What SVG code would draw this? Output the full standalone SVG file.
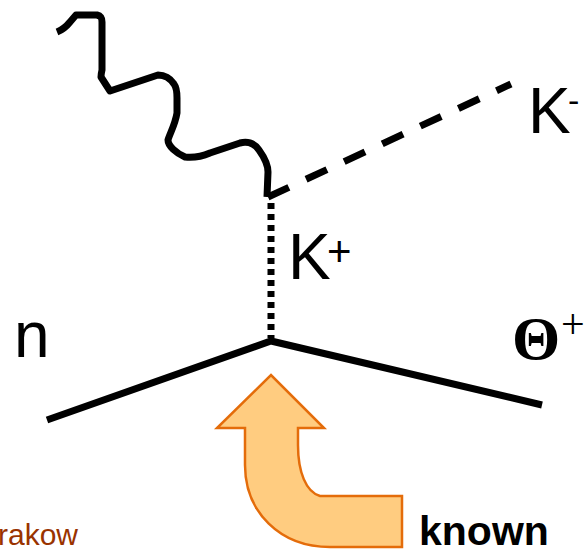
<svg xmlns="http://www.w3.org/2000/svg" width="588" height="549" viewBox="0 0 588 549">
<style>
.ln{fill:none;stroke:#000;stroke-width:7}
.lbl{font-family:"Liberation Sans",Arial,sans-serif;fill:#000}
.sym{font-family:"Liberation Serif","Times New Roman",serif;fill:#000}
</style>
<rect width="588" height="549" fill="#fff"/>
<g id="connectors">
<path id="photon" class="ln" stroke-width="6" stroke-linejoin="round" stroke-linecap="butt" d="M57,32 C62,30 66,27 70,22 L76,15 L97,15 C101,16 102,18 102,22 L102,70 C101,74 101,77 101,77 L110,91 L158,75 C165,75 170,78 174,84 C177,88 177,93 177,98 L177,113 C175,125 170,133 168,140 C168,146 176,153 185,157 C195,158 203,156 210,153 L240,143 C248,141 254,143 259,150 C264,157 268,165 268,172 L267,197"/>
<path id="kminus-line" class="ln" stroke-width="6" stroke-dasharray="23 19" d="M268,197 L511,84"/>
<path id="kplus-line" class="ln" stroke-width="6" stroke-dasharray="6 5" d="M271,203 L271,338"/>
<path id="baryon-line" class="ln" stroke-linejoin="miter" d="M47,420 L271,341 L542,405"/>
</g>
<g id="arrow">
<path d="M245,428 L245,465 C245,512 280,547 330,547 L402,547 L402,496 L320,496 C306,492 298,472 298,445 L298,428 L324,428 L271,375 L217,428 Z" fill="#FFCC80" stroke="#E46C0A" stroke-width="2.5" stroke-linejoin="miter"/>
</g>
<g id="label-kminus"><text class="lbl" x="528" y="133" font-size="64">K</text><text class="lbl" x="568" y="112" font-size="34">-</text></g>
<g id="label-kplus"><text class="lbl" x="288" y="279" font-size="64">K</text><text class="lbl" x="327" y="266" font-size="42">+</text></g>
<g id="label-n"><text class="lbl" x="14" y="357" font-size="64">n</text></g>
<g id="label-theta"><text class="sym" x="512" y="359" font-size="62" font-weight="bold">Θ</text><text class="sym" x="561" y="338" font-size="42">+</text></g>
<g id="label-known"><text class="lbl" x="419" y="545" font-size="41" font-weight="bold">known</text></g>
<g id="label-krakow"><text class="lbl" x="-2" y="545" font-size="30" style="fill:#993300">rakow</text></g>
</svg>
